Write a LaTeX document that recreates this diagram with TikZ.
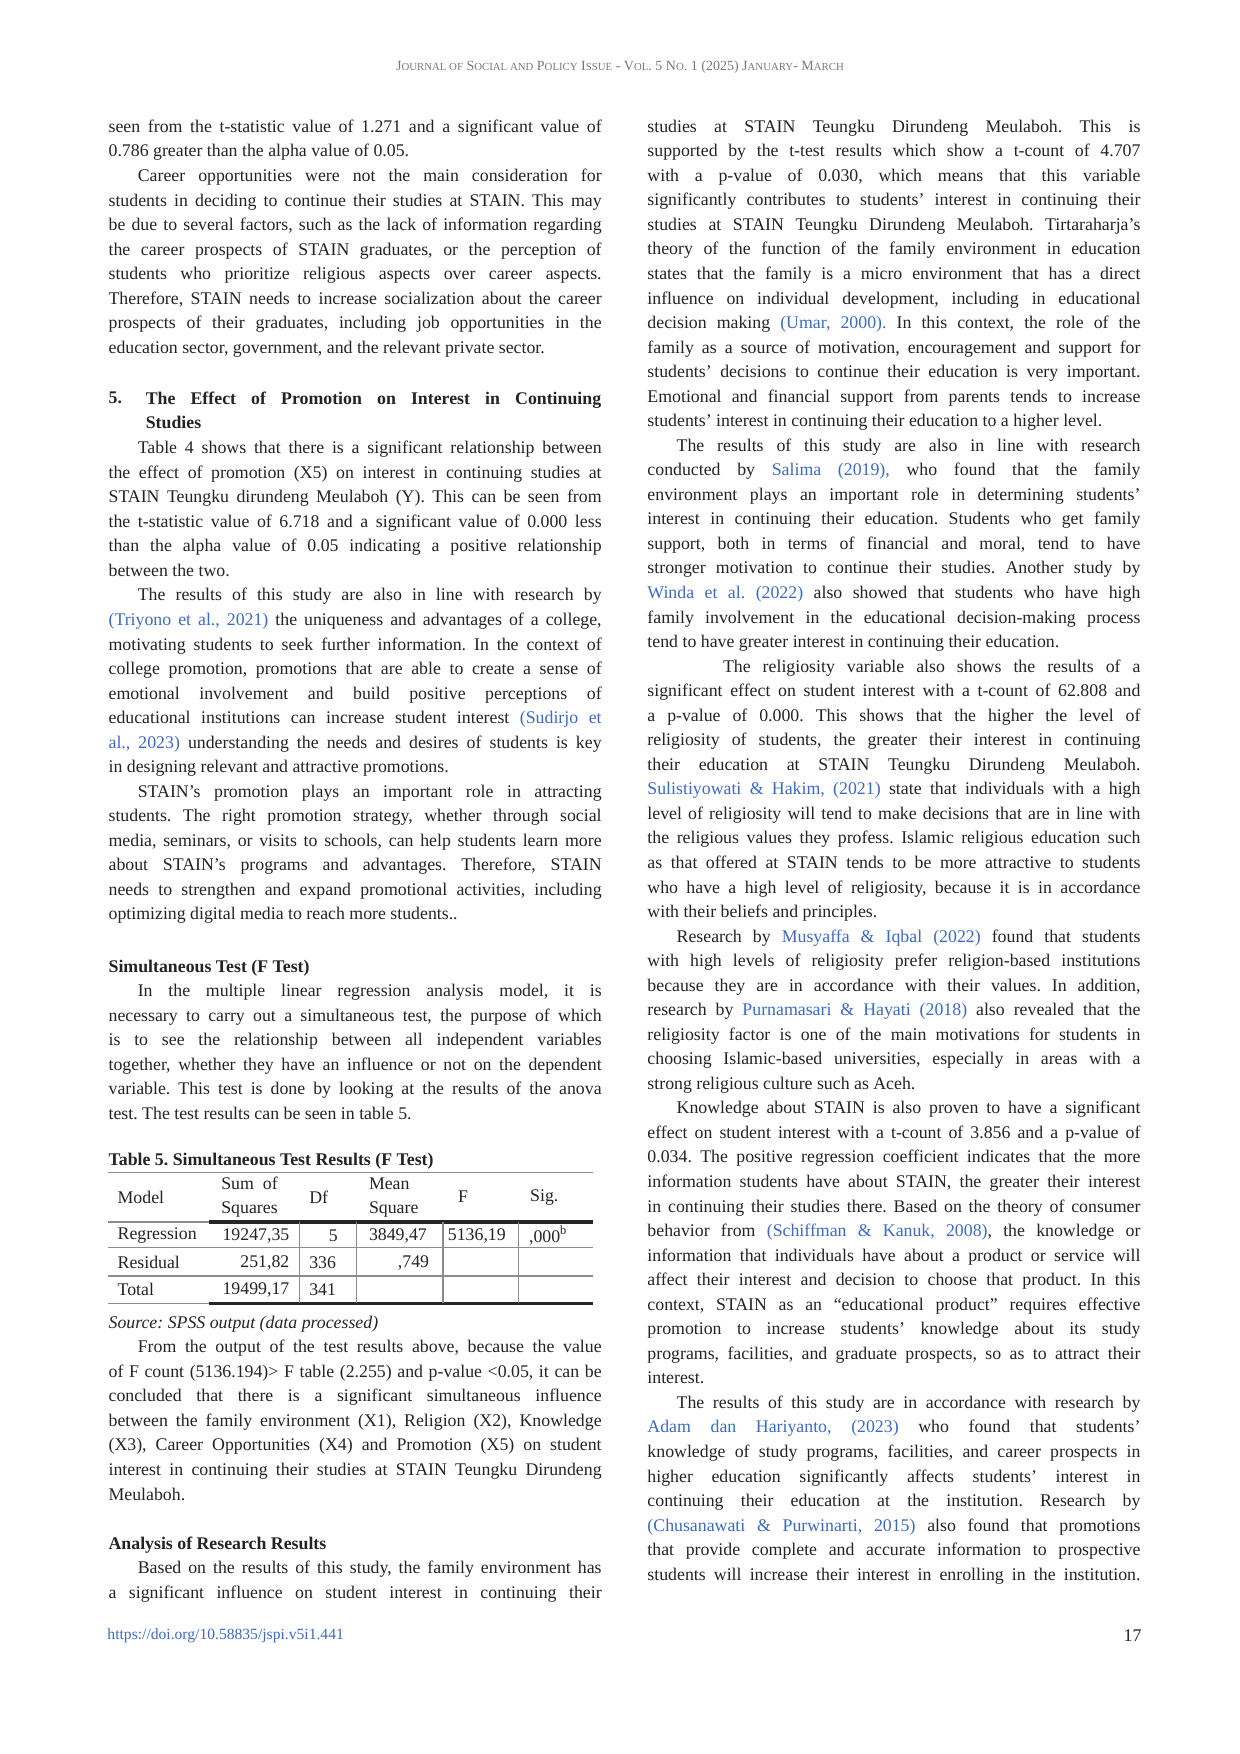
\documentclass[tikz,border=0pt]{standalone}
\usepackage{fontspec}
\setmainfont{Liberation Serif}
\definecolor{linkc}{RGB}{60,105,200}
\definecolor{txt}{RGB}{35,35,35}
\definecolor{hdr}{RGB}{120,120,120}
\newcommand\lk[1]{\textcolor{linkc}{#1}}
\newcommand\fs{\fontsize{8.9}{12.27}\selectfont}
\newcommand\sm[1]{{\fontsize{5.4}{6}\selectfont #1}}
\newlength\pind \setlength\pind{14.6pt}
\newcommand\ind{\hspace*{\pind}}
\begin{document}
\frenchspacing
\begin{tikzpicture}[x=0.5636pt,y=-0.5636pt,
  col/.style={anchor=north west,inner sep=0pt,text width=246.5pt,align=justify,font=\fs,text=txt},
  cell/.style={inner sep=0pt,font=\fs,text=txt},
  tl/.style={draw=black!45,line width=0.6pt},
  tk/.style={draw=black!85,line width=1.6pt}]
\useasboundingbox (0,0) rectangle (1100,1556);
\tolerance=9999 \emergencystretch=2pt \frenchspacing
% header and footer
\node[inner sep=0,text=hdr,font=\fontsize{7}{8}\selectfont] (hdr) at (550,60) {J\sm{OURNAL OF} S\sm{OCIAL AND} P\sm{OLICY} I\sm{SSUE} - V\sm{OL}. 5 N\sm{O}. 1 (2025) J\sm{ANUARY}- M\sm{ARCH}};
\node[anchor=west,inner sep=0,text=linkc,font=\fontsize{7.8}{9}\selectfont] (doi) at (95,1451) {https://doi.org/10.58835/jspi.v5i1.441};
\node[anchor=east,inner sep=0,text=txt,font=\fontsize{8.9}{9}\selectfont] (pg) at (1013,1451) {17};
% left column
\node[col] (l1) at (96,106) {seen from the t-statistic value of 1.271 and a significant value of\linebreak 0.786 greater than the alpha value of 0.05.\par
\ind Career opportunities were not the main consideration for\linebreak students in deciding to continue their studies at STAIN. This may\linebreak be due to several factors, such as the lack of information regarding\linebreak the career prospects of STAIN graduates, or the perception of\linebreak students who prioritize religious aspects over career aspects.\linebreak Therefore, STAIN needs to increase socialization about the career\linebreak prospects of their graduates, including job opportunities in the\linebreak education sector, government, and the relevant private sector.};
\node[anchor=north west,inner sep=0,font=\fs\bfseries,text=txt] (h5n) at (96,347) {5.};
\node[col,text width=227.7pt,font=\fs\bfseries] (h5) at (129,347) {The Effect of Promotion on Interest in Continuing\linebreak Studies};
\node[col] (l2) at (96,391) {\ind Table 4 shows that there is a significant relationship between\linebreak the effect of promotion (X5) on interest in continuing studies at\linebreak STAIN Teungku dirundeng Meulaboh (Y). This can be seen from\linebreak the t-statistic value of 6.718 and a significant value of 0.000 less\linebreak than the alpha value of 0.05 indicating a positive relationship\linebreak between the two.\par
\ind The results of this study are also in line with research by\linebreak \lk{(Triyono et al., 2021)} the uniqueness and advantages of a college,\linebreak motivating students to seek further information. In the context of\linebreak college promotion, promotions that are able to create a sense of\linebreak emotional involvement and build positive perceptions of\linebreak educational institutions can increase student interest \lk{(Sudirjo et}\linebreak \lk{al., 2023)} understanding the needs and desires of students is key\linebreak in designing relevant and attractive promotions.\par
\ind STAIN's promotion plays an important role in attracting\linebreak students. The right promotion strategy, whether through social\linebreak media, seminars, or visits to schools, can help students learn more\linebreak about STAIN's programs and advantages. Therefore, STAIN\linebreak needs to strengthen and expand promotional activities, including\linebreak optimizing digital media to reach more students..};
\node[col] (l3) at (96,851) {\textbf{Simultaneous Test (F Test)}\par
\ind In the multiple linear regression analysis model, it is\linebreak necessary to carry out a simultaneous test, the purpose of which\linebreak is to see the relationship between all independent variables\linebreak together, whether they have an influence or not on the dependent\linebreak variable. This test is done by looking at the results of the anova\linebreak test. The test results can be seen in table 5.};
% table
\node[anchor=west,cell,font=\fs\bfseries] (cap) at (96,1030) {Table 5. Simultaneous Test Results (F Test)};
\draw[tl] (96,1040) -- (526,1040);
\draw[tl] (96,1084) -- (526,1084);
\draw[tk] (185,1084) -- (526,1084);
\draw[tl] (96,1107) -- (526,1107);
\draw[tl] (96,1132) -- (526,1132);
\draw[tl] (96,1156) -- (526,1156);
\draw[tk] (185,1156) -- (526,1156);
\foreach \xx in {266,316,393,460} \draw[tl] (\xx,1084) -- (\xx,1156);
\node[anchor=west,cell] (tm) at (104,1062) {Model};
\node[anchor=west,cell] (ts1) at (196,1050) {Sum\ \ of};
\node[anchor=west,cell] (ts2) at (196,1073) {Squares};
\node[anchor=west,cell] (tdf) at (274,1062) {Df};
\node[anchor=west,cell] (tms1) at (327,1050) {Mean};
\node[anchor=west,cell] (tms2) at (327,1073) {Square};
\node[anchor=west,cell] (tf) at (406,1062) {F};
\node[anchor=west,cell] (tsig) at (470,1062) {Sig.};
\node[anchor=west,cell] (r1a) at (104,1096) {Regression};
\node[anchor=east,cell] (r1b) at (257,1096) {19247,35};
\node[anchor=east,cell] (r1c) at (300,1096) {5};
\node[anchor=west,cell] (r1d) at (327,1096) {3849,47};
\node[anchor=west,cell] (r1e) at (397,1096) {5136,19};
\node[anchor=west,cell] (r1f) at (469,1096) {,000\textsuperscript{b}};
\node[anchor=west,cell] (r2a) at (104,1120) {Residual};
\node[anchor=east,cell] (r2b) at (257,1120) {251,82};
\node[anchor=west,cell] (r2c) at (274,1120) {336};
\node[anchor=east,cell] (r2d) at (381,1120) {,749};
\node[anchor=west,cell] (r3a) at (104,1144) {Total};
\node[anchor=east,cell] (r3b) at (257,1144) {19499,17};
\node[anchor=west,cell] (r3c) at (274,1144) {341};
\node[col] (l4) at (96,1167) {\textit{Source: SPSS output (data processed)}\par
\ind From the output of the test results above, because the value\linebreak of F count (5136.194)> F table (2.255) and p-value <0.05, it can be\linebreak concluded that there is a significant simultaneous influence\linebreak between the family environment (X1), Religion (X2), Knowledge\linebreak (X3), Career Opportunities (X4) and Promotion (X5) on student\linebreak interest in continuing their studies at STAIN Teungku Dirundeng\linebreak Meulaboh.};
\node[col] (l5) at (96,1363) {\textbf{Analysis of Research Results}\par
\ind Based on the results of this study, the family environment has\linebreak {\parfillskip=0pt a significant influence on student interest in continuing their\par}};
% right column
\node[col] (r) at (574,106) {studies at STAIN Teungku Dirundeng Meulaboh. This is\linebreak supported by the t-test results which show a t-count of 4.707\linebreak with a p-value of 0.030, which means that this variable\linebreak significantly contributes to students' interest in continuing their\linebreak studies at STAIN Teungku Dirundeng Meulaboh. Tirtaraharja's\linebreak theory of the function of the family environment in education\linebreak states that the family is a micro environment that has a direct\linebreak influence on individual development, including in educational\linebreak decision making \lk{(Umar, 2000).} In this context, the role of the\linebreak family as a source of motivation, encouragement and support for\linebreak students' decisions to continue their education is very important.\linebreak Emotional and financial support from parents tends to increase\linebreak students' interest in continuing their education to a higher level.\par
\ind The results of this study are also in line with research\linebreak conducted by \lk{Salima (2019),} who found that the family\linebreak environment plays an important role in determining students'\linebreak interest in continuing their education. Students who get family\linebreak support, both in terms of financial and moral, tend to have\linebreak stronger motivation to continue their studies. Another study by\linebreak \lk{Winda et al. (2022)} also showed that students who have high\linebreak family involvement in the educational decision-making process\linebreak tend to have greater interest in continuing their education.\par
\hspace*{37.8pt}The religiosity variable also shows the results of a\linebreak significant effect on student interest with a t-count of 62.808 and\linebreak a p-value of 0.000. This shows that the higher the level of\linebreak religiosity of students, the greater their interest in continuing\linebreak their education at STAIN Teungku Dirundeng Meulaboh.\linebreak \lk{Sulistiyowati \& Hakim, (2021)} state that individuals with a high\linebreak level of religiosity will tend to make decisions that are in line with\linebreak the religious values they profess. Islamic religious education such\linebreak as that offered at STAIN tends to be more attractive to students\linebreak who have a high level of religiosity, because it is in accordance\linebreak with their beliefs and principles.\par
\ind Research by \lk{Musyaffa \& Iqbal (2022)} found that students\linebreak with high levels of religiosity prefer religion-based institutions\linebreak because they are in accordance with their values. In addition,\linebreak research by \lk{Purnamasari \& Hayati (2018)} also revealed that the\linebreak religiosity factor is one of the main motivations for students in\linebreak choosing Islamic-based universities, especially in areas with a\linebreak strong religious culture such as Aceh.\par
\ind Knowledge about STAIN is also proven to have a significant\linebreak effect on student interest with a t-count of 3.856 and a p-value of\linebreak 0.034. The positive regression coefficient indicates that the more\linebreak information students have about STAIN, the greater their interest\linebreak in continuing their studies there. Based on the theory of consumer\linebreak behavior from \lk{(Schiffman \& Kanuk, 2008)}, the knowledge or\linebreak information that individuals have about a product or service will\linebreak affect their interest and decision to choose that product. In this\linebreak context, STAIN as an ``educational product'' requires effective\linebreak promotion to increase students' knowledge about its study\linebreak programs, facilities, and graduate prospects, so as to attract their\linebreak interest.\par
\ind The results of this study are in accordance with research by\linebreak \lk{Adam dan Hariyanto, (2023)} who found that students'\linebreak knowledge of study programs, facilities, and career prospects in\linebreak higher education significantly affects students' interest in\linebreak continuing their education at the institution. Research by\linebreak \lk{(Chusanawati \& Purwinarti, 2015)} also found that promotions\linebreak that provide complete and accurate information to prospective\linebreak {\parfillskip=0pt students will increase their interest in enrolling in the institution.\par}};
\end{tikzpicture}
\end{document}
